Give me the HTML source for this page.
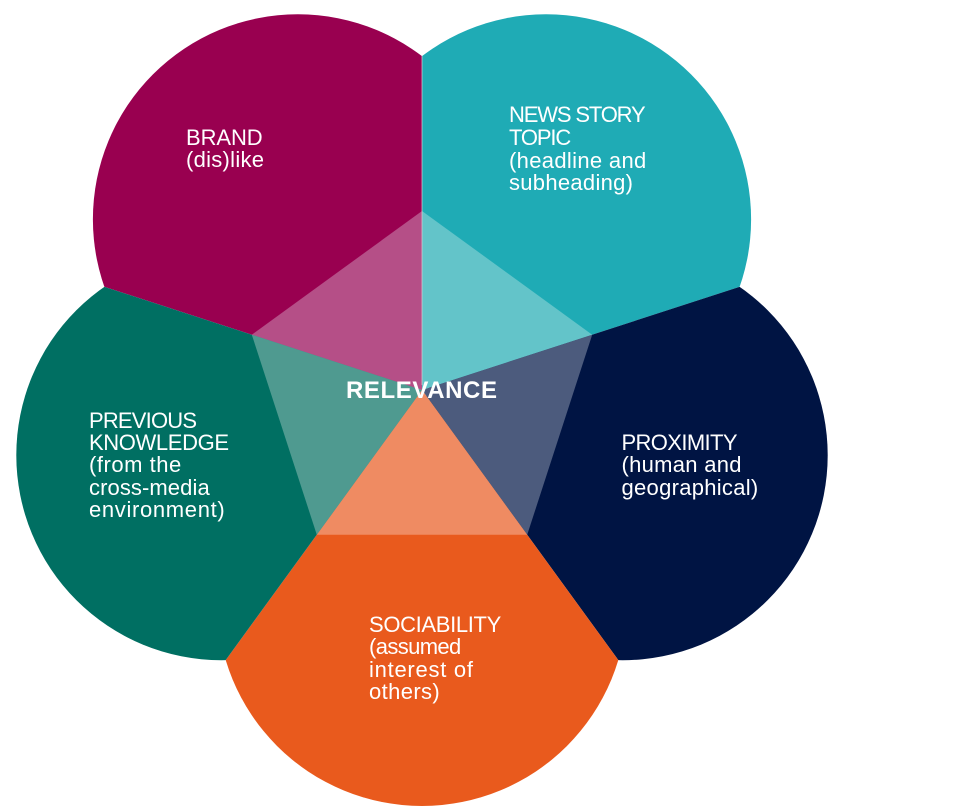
<!DOCTYPE html>
<html>
<head>
<meta charset="utf-8">
<style>
  html, body { margin: 0; padding: 0; background: #ffffff; }
  body { width: 975px; height: 806px; overflow: hidden; }
  svg { display: block; }
  .t { font-family: "Liberation Sans", sans-serif; font-size: 22px; fill: #ffffff; }
  .c { font-family: "Liberation Sans", sans-serif; font-size: 24px; font-weight: bold; fill: #ffffff; }
</style>
</head>
<body>
<svg width="975" height="806" viewBox="0 0 975 806" xmlns="http://www.w3.org/2000/svg">
  <defs>
    <clipPath id="wPink"><polygon points="422,390 422,-610 -166,-419 -529,81"/></clipPath>
    <clipPath id="wTeal"><polygon points="422,390 422,-610 1010,-419 1373,81"/></clipPath>
    <clipPath id="wNavy"><polygon points="422,390 1373,81 1373,699 1010,1199"/></clipPath>
    <clipPath id="wOrange"><polygon points="422,390 1010,1199 422,1390 -166,1199"/></clipPath>
    <clipPath id="wGreen"><polygon points="422,390 -166,1199 -529,699 -529,81"/></clipPath>
  </defs>

  <!-- Petals -->
  <circle cx="297.9" cy="219.3" r="205" fill="#990050" clip-path="url(#wPink)"/>
  <circle cx="546.1" cy="219.3" r="205" fill="#1fabb5" clip-path="url(#wTeal)"/>
  <circle cx="622.7" cy="455.2" r="205" fill="#001443" clip-path="url(#wNavy)"/>
  <circle cx="422" cy="601" r="205" fill="#e95a1d" clip-path="url(#wOrange)"/>
  <circle cx="221.3" cy="455.2" r="205" fill="#006f62" clip-path="url(#wGreen)"/>

  <!-- Inner pentagon triangles -->
  <polygon points="422,390 422,211 251.8,334.7" fill="#b54f87"/>
  <polygon points="422,390 422,211 592.2,334.7" fill="#63c4c9"/>
  <polygon points="422,390 592.2,334.7 527.2,534.8" fill="#4c5b7d"/>
  <polygon points="422,390 527.2,534.8 316.8,534.8" fill="#ef8b62"/>
  <polygon points="422,390 316.8,534.8 251.8,334.7" fill="#4f9a90"/>

  <line x1="422" y1="56" x2="422" y2="385" stroke="#d9c9d3" stroke-width="1" opacity="0.7"/>

  <!-- Center label -->
  <text class="c" x="421.5" y="398" text-anchor="middle" textLength="151" lengthAdjust="spacing">RELEVANCE</text>

  <!-- BRAND -->
  <text class="t" x="186" y="145" textLength="76.7" lengthAdjust="spacing">BRAND</text>
  <text class="t" x="186" y="167" textLength="78" lengthAdjust="spacing">(dis)like</text>

  <!-- NEWS STORY -->
  <text class="t" x="509" y="122" textLength="136.7" lengthAdjust="spacing">NEWS STORY</text>
  <text class="t" x="509" y="145" textLength="62.3" lengthAdjust="spacing">TOPIC</text>
  <text class="t" x="509" y="168" textLength="137.3" lengthAdjust="spacing">(headline and</text>
  <text class="t" x="509" y="190" textLength="124" lengthAdjust="spacing">subheading)</text>

  <!-- PREVIOUS KNOWLEDGE -->
  <text class="t" x="89" y="428" textLength="108" lengthAdjust="spacing">PREVIOUS</text>
  <text class="t" x="89" y="450" textLength="140" lengthAdjust="spacing">KNOWLEDGE</text>
  <text class="t" x="89" y="472" textLength="92.3" lengthAdjust="spacing">(from the</text>
  <text class="t" x="89" y="495" textLength="120.7" lengthAdjust="spacing">cross-media</text>
  <text class="t" x="89" y="517" textLength="135.7" lengthAdjust="spacing">environment)</text>

  <!-- PROXIMITY -->
  <text class="t" x="621.5" y="450" textLength="116" lengthAdjust="spacing">PROXIMITY</text>
  <text class="t" x="621.5" y="472" textLength="120" lengthAdjust="spacing">(human and</text>
  <text class="t" x="621.5" y="495" textLength="136.7" lengthAdjust="spacing">geographical)</text>

  <!-- SOCIABILITY -->
  <text class="t" x="369" y="632" textLength="132.3" lengthAdjust="spacing">SOCIABILITY</text>
  <text class="t" x="369" y="654" textLength="92.3" lengthAdjust="spacing">(assumed</text>
  <text class="t" x="369" y="677" textLength="104" lengthAdjust="spacing">interest of</text>
  <text class="t" x="369" y="699" textLength="70.7" lengthAdjust="spacing">others)</text>
</svg>
</body>
</html>
